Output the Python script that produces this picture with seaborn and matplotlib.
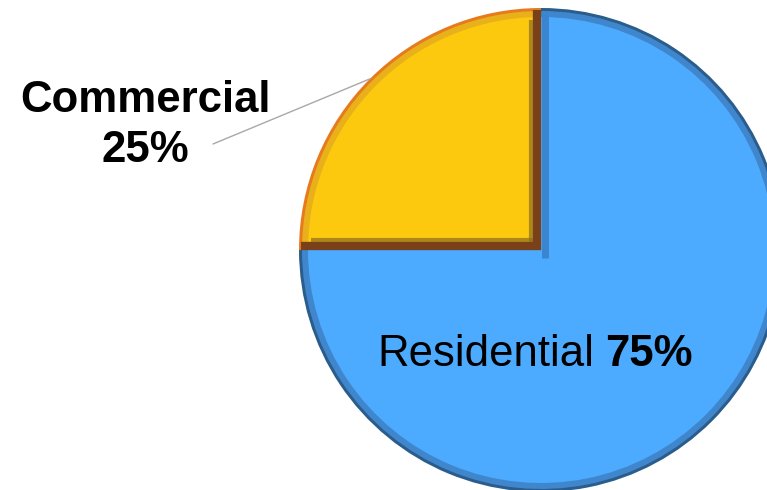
import numpy as np
import matplotlib.pyplot as plt
import seaborn as sns

# datos
sectores = ["Commercial", "Residential"]
porcentajes = [25, 75]
colores = ["#FDC90E", "#4CABFF"]
colores_borde = ["#E67A1C", "#2A5C8C"]
colores_bisel = ["#E8B01A", "#3F86CC"]

sns.set_style("white")
plt.rcParams['font.family'] = ['Liberation Sans', 'DejaVu Sans']

fig = plt.figure(figsize=(7.67, 4.90), dpi=100)
ax = fig.add_axes([0, 0, 1, 1])

centro = (541, 240)
R = 242

# borde exterior, bisel y relleno
ax.pie(porcentajes, colors=colores_borde, startangle=90, counterclock=True,
       center=centro, radius=R, frame=True, wedgeprops=dict(linewidth=0))
ax.pie(porcentajes, colors=colores_bisel, startangle=90, counterclock=True,
       center=centro, radius=R - 3, frame=True, wedgeprops=dict(linewidth=0))
cunas, _ = ax.pie(porcentajes, colors=colores, startangle=90, counterclock=True,
                  center=centro, radius=R - 9, frame=True, wedgeprops=dict(linewidth=0))

# sombra azul junto al lado vertical
ax.plot([centro[0] + 4, centro[0] + 4], [centro[1] - 8, centro[1] + R - 6],
        color="#3A85D0", lw=5, solid_capstyle="butt")
# sombra marron en los lados rectos de la cuña comercial
c = cunas[0]
ax.plot([centro[0] - 4, centro[0] - 4], [centro[1], centro[1] + R - 2],
        color="#7A4019", lw=6, solid_capstyle="butt")
ax.plot([centro[0] - R + 2, centro[0]], [centro[1] + 4, centro[1] + 4],
        color="#7A4019", lw=6, solid_capstyle="butt")
ax.plot([centro[0] - 10, centro[0] - 10], [centro[1] + 8, centro[1] + R - 12],
        color="#8C6C1E", lw=3, solid_capstyle="butt", alpha=0.7)
ax.plot([centro[0] - R + 12, centro[0] - 8], [centro[1] + 10, centro[1] + 10],
        color="#8C6C1E", lw=3, solid_capstyle="butt", alpha=0.7)

# etiquetas
ang = np.deg2rad((c.theta1 + c.theta2) / 2)
punta = (centro[0] + R * np.cos(ang), centro[1] + R * np.sin(ang))
ax.plot([213, punta[0]], [490 - 144, punta[1]], color="#A8A8A8", lw=1)

ax.text(145, 490 - 101, f"{sectores[0]}", ha="center", va="center",
        fontsize=31.5, fontweight="bold", color="black")
ax.text(145, 490 - 151, f"{porcentajes[0]}%", ha="center", va="center",
        fontsize=31.5, fontweight="bold", color="black")

ax.text(377, 490 - 355, f"{sectores[1]}", ha="left", va="center",
        fontsize=31.5, color="black")
ax.text(693, 490 - 355, f"{porcentajes[1]}%", ha="right", va="center",
        fontsize=31.5, fontweight="bold", color="black")

ax.set_xlim(0, 767)
ax.set_ylim(0, 490)
ax.set_aspect("equal")
ax.axis("off")

fig.savefig("out.png", dpi=100)
